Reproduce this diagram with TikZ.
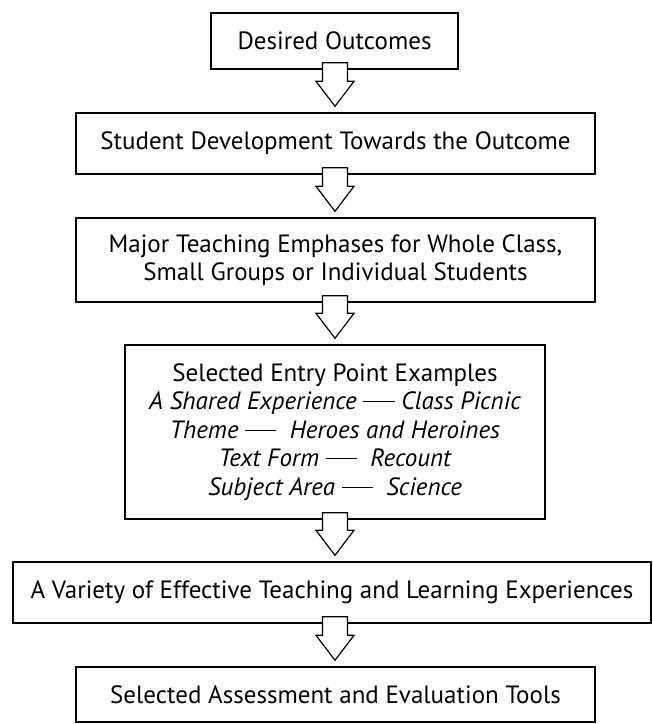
\documentclass[tikz,border=0pt]{standalone}
\usepackage{fontspec}
\setmainfont{PT Sans}
\usetikzlibrary{calc}

\tikzset{
  stage/.style={draw,line width=0.7pt,inner sep=0pt,align=center,
    font=\fontsize{12.5}{14.25}\selectfont},
  blockarrow/.style={draw,fill=white,line width=0.6pt,line join=miter}
}
% long dash as in the entry point lines
\newcommand{\longdash}{\rule[0.3em]{1.25em}{0.55pt}}
% block arrow from the bottom of one stage into the top of the next
\newcommand{\stagearrow}[2]{%
  \draw[blockarrow] ($(axis |- #1.south)+(-6.25pt,3.5pt)$)
    -- ($(axis |- #1.south)+(6.25pt,3.5pt)$)
    -- ($(axis |- #2.north)+(6.25pt,15.5pt)$)
    -- ($(axis |- #2.north)+(9.5pt,15.5pt)$)
    -- ($(axis |- #2.north)+(0,3pt)$)
    -- ($(axis |- #2.north)+(-9.5pt,15.5pt)$)
    -- ($(axis |- #2.north)+(-6.25pt,15.5pt)$) -- cycle;}

\begin{document}
\begin{tikzpicture}[x=0.5pt,y=-0.5pt]
  \useasboundingbox (0,0) rectangle (653,724);
  \coordinate (axis) at (335,0);
  \node[stage,minimum width=123.5pt,minimum height=28pt] (outcomes) at (334.5,41)
    {Desired Outcomes};
  \node[stage,minimum width=259.5pt,minimum height=30.5pt] (development) at (335.5,143.5)
    {Student Development Towards the Outcome};
  \node[stage,minimum width=259.5pt,minimum height=42pt] (emphases) at (335.5,260)
    {Major Teaching Emphases for Whole Class,\\Small Groups or Individual Students};
  \node[stage,minimum width=210pt,minimum height=87pt] (entry) at (335,432)
    {Selected Entry Point Examples\\
     \itshape A Shared Experience \longdash{} Class Picnic\\
     \itshape Theme \longdash\ \ Heroes and Heroines\\
     \itshape Text Form \longdash\ \ Recount\\
     \itshape Subject Area \longdash\ \ Science};
  \node[stage,minimum width=319pt,minimum height=30.5pt] (experiences) at (332,592.5)
    {A Variety of Effective Teaching and Learning Experiences};
  \node[stage,minimum width=259.5pt,minimum height=27.5pt] (assessment) at (335.5,694.5)
    {Selected Assessment and Evaluation Tools};
  \stagearrow{outcomes}{development}
  \stagearrow{development}{emphases}
  \stagearrow{emphases}{entry}
  \stagearrow{entry}{experiences}
  \stagearrow{experiences}{assessment}
\end{tikzpicture}
\end{document}
